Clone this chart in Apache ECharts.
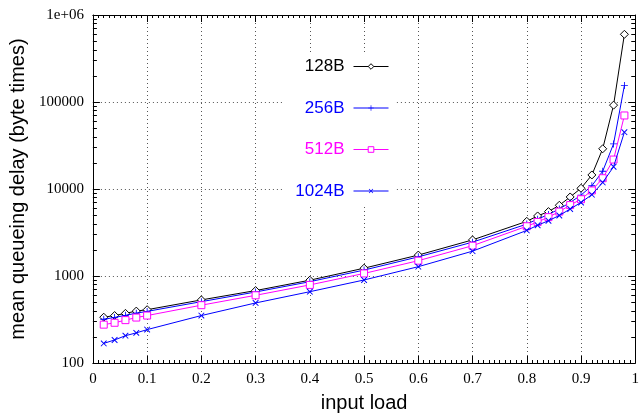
<!DOCTYPE html>
<html>
<head>
<meta charset="utf-8">
<script src="https://cdn.jsdelivr.net/npm/echarts@6/dist/echarts.min.js"></script>
<style>
html,body{margin:0;padding:0;background:#fff;}
#chart{width:642px;height:418px;}
</style>
</head>
<body>
<div id="chart"></div>
<script>
const inputLoad = [0.02,0.04,0.06,0.08,0.1,0.2,0.3,0.4,0.5,0.6,0.7,0.8,0.82,0.84,0.86,0.88,0.9,0.92,0.94,0.96,0.98];
const delay128  = [336,351,372,395,410,531,680,895,1230,1740,2600,4250,4900,5500,6500,8100,10200,14500,29000,92000,600000];
const delay256  = [318,334,353,374,392,507,655,860,1170,1660,2450,3950,4500,5100,5900,7000,8500,10900,16000,33000,155000];
const delay512  = [276,290,311,333,351,462,600,790,1070,1500,2230,3730,4180,4750,5500,6530,7630,9620,13300,21800,70000];
const delay1024 = [168,184,206,222,242,351,490,660,900,1280,1930,3340,3830,4320,4960,5890,7000,8610,11900,18000,45000];
const seriesNames = ['128B','256B','512B','1024B'];
const seriesColors = ['#000000','#0000ff','#ff00ff','#0000ff'];
const xTickLabels = ['0','0.1','0.2','0.3','0.4','0.5','0.6','0.7','0.8','0.9','1'];
const yTickLabels = {100:'100',1000:'1000',10000:'10000',100000:'100000',1000000:'1e+06'};
const xMin = 0, xMax = 1, yMin = 100, yMax = 1000000;

// minor log ticks (2..9 per decade)
const minorY = [];
for (let d = yMin; d < yMax; d *= 10) for (let k = 2; k <= 9; k++) minorY.push([xMin, d * k]);

const sans = 'Liberation Sans';
const serif = 'Liberation Serif';
const plusPath = 'path://M4.4,0H5.6V4.4H10V5.6H5.6V10H4.4V5.6H0V4.4H4.4Z';
const symbols = ['diamond', plusPath, 'rect', plusPath];
const symbolSizes = [8, 7, 7, 8];
const symbolRot = [0, 0, 0, 45];
const hollow = [true, false, true, false];
const allData = [delay128, delay256, delay512, delay1024];

function markerStyle(i) {
  return hollow[i]
    ? {color: '#ffffff', borderColor: seriesColors[i], borderWidth: 1}
    : {color: seriesColors[i], borderWidth: 0};
}

const lineSeries = seriesNames.map((name, i) => ({
  name: name,
  type: 'line',
  xAxisIndex: 0, yAxisIndex: 0,
  data: inputLoad.map((x, j) => [x, allData[i][j]]),
  symbol: symbols[i],
  symbolSize: symbolSizes[i],
  symbolRotate: symbolRot[i],
  showAllSymbol: true,
  lineStyle: {color: seriesColors[i], width: 1},
  itemStyle: markerStyle(i),
  emphasis: {disabled: true},
  z: 3 + i
}));

const minorTickSeries = {
  type: 'custom',
  xAxisIndex: 0, yAxisIndex: 0,
  data: minorY,
  silent: true,
  z: 2,
  renderItem: function (params, api) {
    const v = api.value(1);
    const pL = api.coord([xMin, v]);
    const pR = api.coord([xMax, v]);
    const y = Math.round(pL[1]) + 0.5;
    return {
      type: 'group',
      children: [
        {type: 'line', shape: {x1: pL[0], y1: y, x2: pL[0] + 4, y2: y}, style: {stroke: '#000', lineWidth: 1}},
        {type: 'line', shape: {x1: pR[0], y1: y, x2: pR[0] - 4, y2: y}, style: {stroke: '#000', lineWidth: 1}}
      ]
    };
  }
};

const gridLine = {show: true, lineStyle: {color: '#555', type: [1, 3], width: 1}};

const option = {
  animation: false,
  backgroundColor: '#fff',
  grid: {left: 90, right: 2, top: 15, bottom: 46, containLabel: false},
  legend: {
    orient: 'vertical',
    align: 'right',
    right: 247,
    top: 52,
    itemWidth: 35,
    itemHeight: 7,
    itemGap: 24.5,
    padding: [6, 6, 6, 12],
    backgroundColor: '#ffffff',
    selectedMode: false,
    data: seriesNames.map((n, i) => ({
      name: n,
      textStyle: {color: seriesColors[i]},
      itemStyle: markerStyle(i),
      lineStyle: {color: seriesColors[i], width: 1}
    })),
    textStyle: {fontFamily: sans, fontSize: 17, padding: [0, 4, 0, 0]}
  },
  xAxis: [{
    type: 'value', min: xMin, max: xMax, interval: 0.1, position: 'bottom',
    name: 'input load', nameLocation: 'middle', nameGap: 30,
    nameTextStyle: {fontFamily: sans, fontSize: 20, color: '#000'},
    axisLine: {show: true, onZero: false, lineStyle: {color: '#000', width: 1}},
    axisTick: {show: true, inside: true, length: 7, lineStyle: {color: '#000'}},
    minorTick: {show: true, splitNumber: 10, length: 3, lineStyle: {color: '#000'}},
    axisLabel: {
      fontFamily: serif, fontSize: 15, color: '#000', margin: 9,
      formatter: v => xTickLabels[Math.round(v * 10)]
    },
    splitLine: gridLine
  }, {
    type: 'value', min: xMin, max: xMax, interval: 0.1, position: 'top',
    axisLine: {show: true, onZero: false, lineStyle: {color: '#000', width: 1}},
    axisTick: {show: true, inside: true, length: 7, lineStyle: {color: '#000'}},
    minorTick: {show: true, splitNumber: 10, length: 3, lineStyle: {color: '#000'}},
    axisLabel: {show: false},
    splitLine: {show: false}
  }],
  yAxis: [{
    type: 'log', logBase: 10, min: yMin, max: yMax, position: 'left',
    name: 'mean queueing delay (byte times)', nameLocation: 'middle', nameGap: 62, nameRotate: 90,
    nameTextStyle: {fontFamily: sans, fontSize: 20, color: '#000'},
    axisLine: {show: true, onZero: false, lineStyle: {color: '#000', width: 1}},
    axisTick: {show: true, inside: true, length: 7, lineStyle: {color: '#000'}},
    axisLabel: {
      fontFamily: serif, fontSize: 15, color: '#000', margin: 9,
      formatter: v => yTickLabels[Math.round(v)] || String(v)
    },
    splitLine: gridLine
  }, {
    type: 'log', logBase: 10, min: yMin, max: yMax, position: 'right',
    axisLine: {show: true, onZero: false, lineStyle: {color: '#000', width: 1}},
    axisTick: {show: true, inside: true, length: 7, lineStyle: {color: '#000'}},
    axisLabel: {show: false},
    splitLine: {show: false}
  }],
  series: [minorTickSeries].concat(lineSeries)
};

const chart = echarts.init(document.getElementById('chart'), null, {renderer: 'canvas'});
chart.setOption(option);
</script>
</body>
</html>
